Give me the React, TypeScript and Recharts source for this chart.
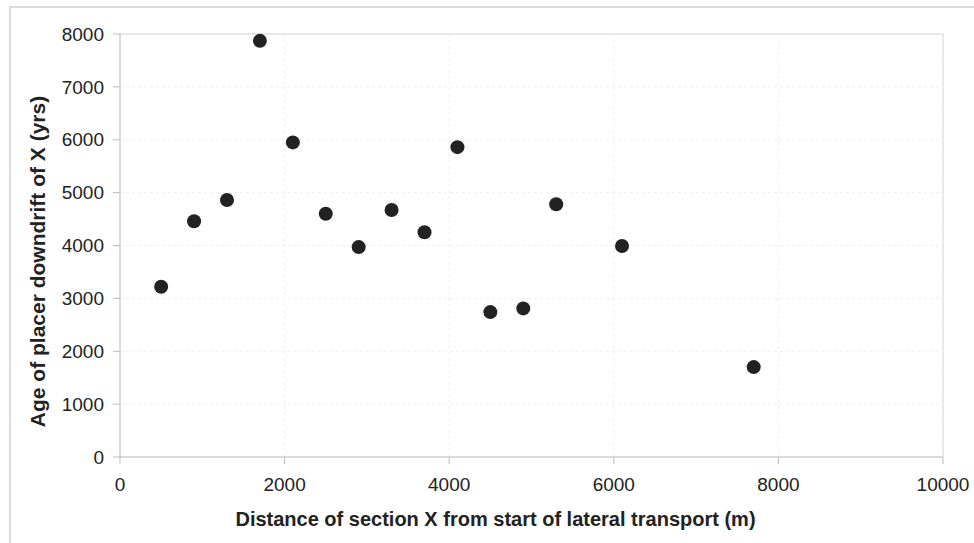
import { ScatterChart, Scatter, XAxis, YAxis, CartesianGrid, ReferenceLine } from 'recharts';

// distance of section X from start of lateral transport (m)
const distances = [500, 900, 1300, 1700, 2100, 2500, 2900, 3300, 3700, 4100, 4500, 4900, 5300, 6100, 7700];
// age of placer downdrift of X (yrs)
const ages = [3220, 4460, 4860, 7870, 5950, 4600, 3970, 4670, 4250, 5860, 2740, 2810, 4780, 3990, 1700];

const xTicks = [0, 2000, 4000, 6000, 8000, 10000];
const yTicks = [0, 1000, 2000, 3000, 4000, 5000, 6000, 7000, 8000];

const points = distances.map((d, i) => ({ x: d, y: ages[i] }));

const font = '"Liberation Sans", Arial, sans-serif';
const tickStyle = { fontSize: 19, fill: '#222', fontFamily: font };

const Dot = (props: any) => <circle cx={props.cx} cy={props.cy} r={7} fill="#222" />;

const XLabel = (props: any) => {
  const vb = props.viewBox;
  return (
    <text
      x={vb.x + vb.width / 2 - 36}
      y={vb.y + 69}
      textAnchor="middle"
      fontFamily={font}
      fontSize={20}
      fontWeight="bold"
      fill="#222"
    >
      Distance of section X from start of lateral transport (m)
    </text>
  );
};

const YLabel = (props: any) => {
  const vb = props.viewBox;
  const cx = 37;
  const cy = vb.y + vb.height / 2 + 16;
  return (
    <text
      x={cx}
      y={cy}
      transform={`rotate(-90 ${cx} ${cy})`}
      textAnchor="middle"
      dominantBaseline="central"
      fontFamily={font}
      fontSize={21}
      fontWeight="bold"
      fill="#222"
    >
      Age of placer downdrift of X (yrs)
    </text>
  );
};

export default function App() {
  return (
    <div style={{ position: 'absolute', left: 0, top: 0, width: 974, height: 543, overflow: 'hidden', background: '#fff' }}>
      <div
        style={{
          position: 'absolute',
          left: 9,
          top: 6,
          width: 1000,
          height: 600,
          border: '2px solid #dcdcdc',
        }}
      />
      <div style={{ position: 'absolute', left: 0, top: 0 }}>
        <ScatterChart width={974} height={543} margin={{ top: 34, right: 31, bottom: 0, left: 0 }}>
          <CartesianGrid strokeDasharray="3 3" stroke="#efefef" />
          <XAxis
            type="number"
            dataKey="x"
            domain={[0, 10000]}
            ticks={xTicks}
            height={86}
            tickSize={7}
            tickMargin={14}
            stroke="#bbb"
            tick={tickStyle}
            label={<XLabel />}
          />
          <YAxis
            type="number"
            dataKey="y"
            domain={[0, 8000]}
            ticks={yTicks}
            width={120}
            tickSize={7}
            tickMargin={9}
            stroke="#bbb"
            tick={tickStyle}
            label={<YLabel />}
          />
          <ReferenceLine y={8000} stroke="#d6d6d6" />
          <ReferenceLine x={10000} stroke="#d6d6d6" />
          <Scatter data={points} fill="#222" shape={<Dot />} isAnimationActive={false} />
        </ScatterChart>
      </div>
    </div>
  );
}
